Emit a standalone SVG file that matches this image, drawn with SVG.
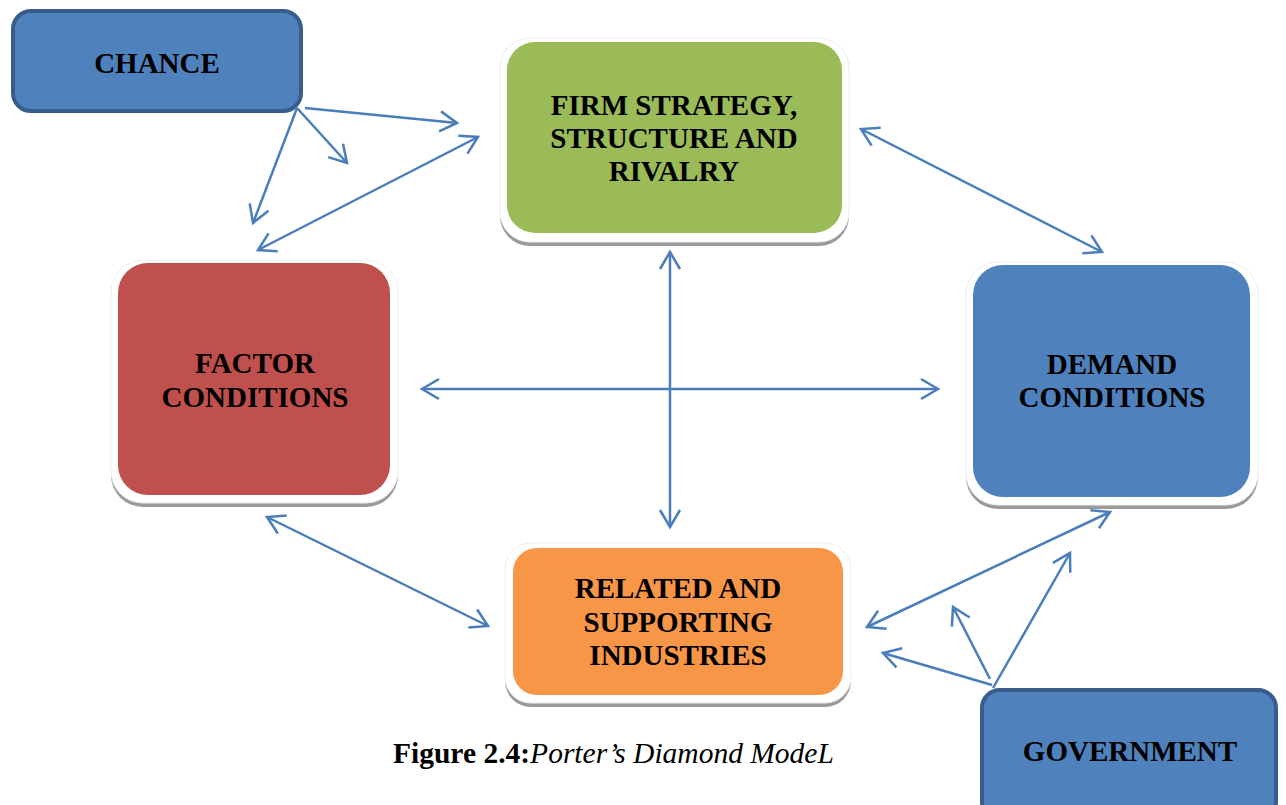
<svg xmlns="http://www.w3.org/2000/svg" width="1286" height="805" viewBox="0 0 1286 805">
<style>
.lbl{font-family:"Liberation Serif","Times New Roman",serif;font-weight:bold;font-size:29px;fill:#000;text-anchor:middle}
.shadow{fill:#9a9a9a}
.frame{fill:#ffffff;stroke:#eeeeee;stroke-width:1}
.ext{fill:#4F81BD;stroke:#385D8A;stroke-width:4}
.conn{fill:none;stroke:#4A7EBB;stroke-width:2.5}
</style>
<defs>
<marker id="ah" markerUnits="userSpaceOnUse" viewBox="-20 -13 23 26" markerWidth="23" markerHeight="26" refX="0" refY="0" orient="auto-start-reverse">
<path d="M-17,-10 L0,0 L-17,10" fill="none" stroke="#4A7EBB" stroke-width="2.5"/>
</marker>
</defs>
<rect width="1286" height="805" fill="#ffffff"/>

<g id="chance">
<rect class="ext" x="13" y="11" width="288" height="100" rx="18"/>
<text class="lbl" x="157" y="73">CHANCE</text>
</g>

<g id="firm">
<rect class="shadow" x="500" y="40" width="349" height="206" rx="30"/>
<rect class="frame" x="500" y="38" width="349" height="204" rx="30"/>
<rect x="507" y="42" width="335" height="191" rx="28" fill="#9BBB59"/>
<text class="lbl" x="674" y="115">FIRM STRATEGY,</text>
<text class="lbl" x="674" y="148">STRUCTURE AND</text>
<text class="lbl" x="674" y="181">RIVALRY</text>
</g>

<g id="factor">
<rect class="shadow" x="111" y="262" width="287" height="245" rx="32"/>
<rect class="frame" x="111" y="260" width="287" height="243" rx="32"/>
<rect x="118" y="263" width="272" height="232" rx="30" fill="#C0504D"/>
<text class="lbl" x="255" y="373">FACTOR</text>
<text class="lbl" x="255" y="407">CONDITIONS</text>
</g>

<g id="demand">
<rect class="shadow" x="966" y="264" width="292" height="245" rx="32"/>
<rect class="frame" x="966" y="262" width="292" height="243" rx="32"/>
<rect x="973" y="265" width="277" height="232" rx="30" fill="#4F81BD"/>
<text class="lbl" x="1112" y="374">DEMAND</text>
<text class="lbl" x="1112" y="407">CONDITIONS</text>
</g>

<g id="related">
<rect class="shadow" x="505" y="545" width="346" height="162" rx="26"/>
<rect class="frame" x="505" y="543" width="346" height="160" rx="26"/>
<rect x="513" y="548" width="330" height="147" rx="24" fill="#F79646"/>
<text class="lbl" x="678" y="598">RELATED AND</text>
<text class="lbl" x="678" y="632">SUPPORTING</text>
<text class="lbl" x="678" y="665">INDUSTRIES</text>
</g>

<g id="government">
<rect class="ext" x="982" y="690" width="294" height="130" rx="18"/>
<text class="lbl" x="1130" y="761">GOVERNMENT</text>
</g>

<g id="connectors">
<path class="conn" d="M305,108 L457,123" marker-end="url(#ah)"/>
<path class="conn" d="M297,108 L347,163" marker-end="url(#ah)"/>
<path class="conn" d="M297,108 L253,223" marker-end="url(#ah)"/>
<path class="conn" d="M478,137 L258,250" marker-start="url(#ah)" marker-end="url(#ah)"/>
<path class="conn" d="M861,129 L1102,252" marker-start="url(#ah)" marker-end="url(#ah)"/>
<path class="conn" d="M670,252 L670,527" marker-start="url(#ah)" marker-end="url(#ah)"/>
<path class="conn" d="M422,389 L938,389" marker-start="url(#ah)" marker-end="url(#ah)"/>
<path class="conn" d="M267,517 L488,626" marker-start="url(#ah)" marker-end="url(#ah)"/>
<path class="conn" d="M867,627 L1110,512" marker-start="url(#ah)" marker-end="url(#ah)"/>
<path class="conn" d="M992,685 L883,653" marker-end="url(#ah)"/>
<path class="conn" d="M990,679 L953,607" marker-end="url(#ah)"/>
<path class="conn" d="M993,688 L1070,553" marker-end="url(#ah)"/>
</g>

<text x="393" y="763" font-family="'Liberation Serif','Times New Roman',serif" font-size="29.5" fill="#000"><tspan font-weight="bold">Figure 2.4:</tspan><tspan font-style="italic">Porter’s Diamond ModeL</tspan></text>
</svg>
